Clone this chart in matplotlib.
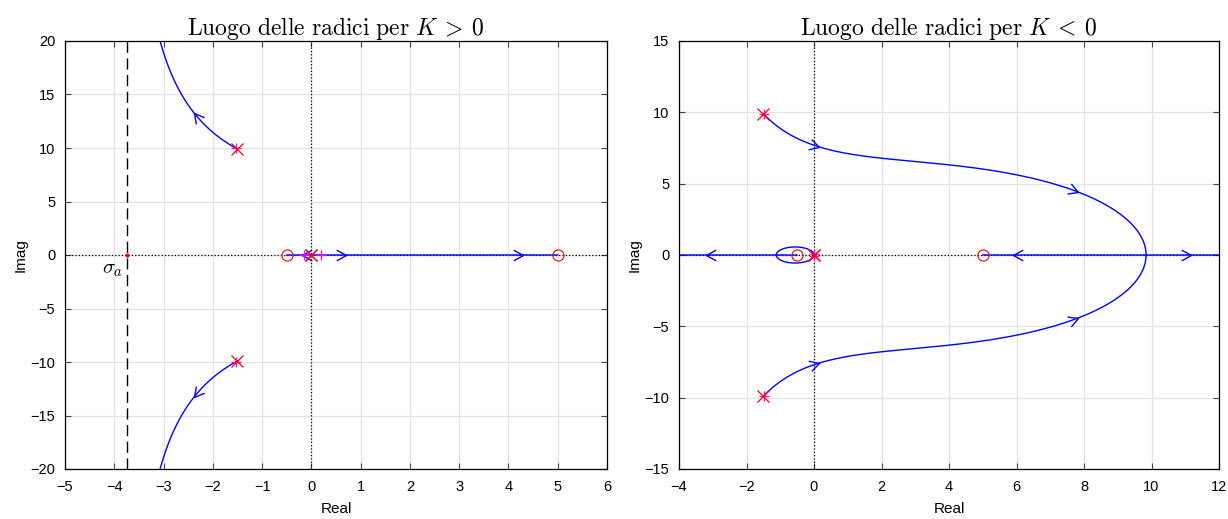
import numpy as np
import matplotlib
matplotlib.use("Agg")
import matplotlib.pyplot as plt
from matplotlib.path import Path
from matplotlib.markers import MarkerStyle
from matplotlib.transforms import Affine2D
from itertools import permutations

# open-loop poles / zeros
poles = np.array([0, 0, -1.5 + 9.9j, -1.5 - 9.9j])
zeros = np.array([-0.5, 5.0])

# gains where the direction arrows sit (with a hint for which branch)
arrows_pos = [(2.24, -0.2 + 0j), (9.8, 0.7 + 0j), (724, 4.3 + 0j),
              (72, -2.3 + 13j), (72, -2.3 - 13j)]
arrows_neg = [(-46.7, -3.2 + 0j), (-448, 11.2 + 0j), (-923, 5.9 + 0j),
              (-42, 0.1 + 7.5j), (-42, 0.1 - 7.5j),
              (-301, 7.8 + 4.4j), (-301, 7.8 - 4.4j)]
k_mark_pos = 1.2      # closed-loop poles marked with magenta +
k_mark_neg = -0.3

den = np.poly(poles).real
num = np.concatenate([np.zeros(len(poles) - len(zeros)), np.poly(zeros).real])


def cl_roots(k):
    return np.roots(den + k * num)


def gain_grid(sign):
    g = np.logspace(-4, 6, 4000)
    # breakaway / break-in points: d(den/num)/ds = 0
    bp = np.roots(np.polysub(np.polymul(np.polyder(den), num),
                             np.polymul(den, np.polyder(num))))
    extra = []
    for s in bp:
        if abs(s.imag) < 1e-6 and abs(np.polyval(num, s.real)) > 1e-9:
            k = -np.polyval(den, s.real) / np.polyval(num, s.real)
            if k * sign > 0:
                kk = abs(k)
                extra.append(kk * (1 + np.linspace(-0.02, 0.02, 401)))
    g = np.sort(np.concatenate([[0], g] + extra))
    return sign * g


def locus(gains):
    out, prev = [], None
    for k in gains:
        r = cl_roots(k)
        if prev is not None:
            best = min(permutations(range(len(r))),
                       key=lambda p: np.abs(r[list(p)] - prev).sum())
            r = r[list(best)]
        out.append(r)
        prev = r
    return np.array(out)


chev = Path([(-1, 0.55), (0, 0), (-1, -0.55)],
            [Path.MOVETO, Path.LINETO, Path.LINETO])


def add_arrow(ax, k, hint):
    r = cl_roots(k)
    p = r[np.argmin(np.abs(r - hint))]
    r2 = cl_roots(k * 1.01)
    p2 = r2[np.argmin(np.abs(r2 - p))]
    a = ax.transData.transform([p.real, p.imag])
    b = ax.transData.transform([p2.real, p2.imag])
    ang = np.degrees(np.arctan2(b[1] - a[1], b[0] - a[0]))
    m = MarkerStyle(chev, transform=Affine2D().rotate_deg(ang))
    ax.plot(p.real, p.imag, marker=m, ms=14, mfc="none", mec="blue",
            mew=1.0, zorder=5)


plt.rcParams["font.family"] = ["Liberation Sans", "DejaVu Sans"]
plt.rcParams["mathtext.fontset"] = "cm"

fig = plt.figure(figsize=(12.28, 5.19), dpi=100)
ax1 = fig.add_axes([65 / 1228, 50 / 519, 542 / 1228, 428 / 519])
ax2 = fig.add_axes([679 / 1228, 50 / 519, 540 / 1228, 428 / 519])

setups = [
    (ax1, gain_grid(1), (-5, 6), (-20, 20),
     np.arange(-5, 7, 1), np.arange(-20, 25, 5), arrows_pos, k_mark_pos, ">"),
    (ax2, gain_grid(-1), (-4, 12), (-15, 15),
     np.arange(-4, 14, 2), np.arange(-15, 20, 5), arrows_neg, k_mark_neg, "<"),
]

for ax, gains, xl, yl, xt, yt, arr, km, sign in setups:
    ax.set_xlim(xl)
    ax.set_ylim(yl)
    ax.set_xticks(xt)
    ax.set_yticks(yt)
    ax.grid(True, color="#e3e3e3", lw=0.9)
    ax.set_axisbelow(True)
    ax.tick_params(direction="in", length=4, color="#444444", top=True,
                   right=True, labelsize=10.5)
    ax.tick_params(axis="x", pad=8)
    ax.tick_params(axis="y", pad=7)
    for s in ax.spines.values():
        s.set_linewidth(0.9)
    ax.axhline(0, color="k", ls=":", lw=0.9, zorder=1)
    ax.axvline(0, color="k", ls=":", lw=0.9, zorder=1)

    R = locus(gains)
    for i in range(R.shape[1]):
        ax.plot(R[:, i].real, R[:, i].imag, color="blue", lw=1.0, zorder=3)
    for k, h in arr:
        add_arrow(ax, k, h)

    ax.plot(zeros.real, zeros.imag, "o", ms=8, mfc="none", mec="red",
            mew=0.8, zorder=6)
    ax.plot(poles.real, poles.imag, "x", ms=9, color="red", mew=0.9, zorder=7)
    rk = cl_roots(km)
    ax.plot(rk.real, rk.imag, "+", ms=7, color="magenta", mew=0.9, zorder=6)

    ax.set_xlabel("Real", fontsize=11, labelpad=6)
    ax.set_ylabel("Imag", fontsize=11, labelpad=2)
    ax.set_title(r"$\mathrm{Luogo\ delle\ radici\ per}\ K\:%s\:0$" % sign,
                 fontsize=17, pad=4)

# asymptote centre for K > 0
sigma_a = (poles.real.sum() - zeros.sum()) / (len(poles) - len(zeros))
ax1.axvline(sigma_a, color="k", ls=(0, (8, 4)), lw=1.0, zorder=2)
ax1.plot(sigma_a, 0, ".", color="red", ms=4, zorder=6)
ax1.text(sigma_a - 0.06, -0.5, r"$\sigma_a$", ha="right", va="top", fontsize=15)

fig.savefig("out.png", dpi=100)
